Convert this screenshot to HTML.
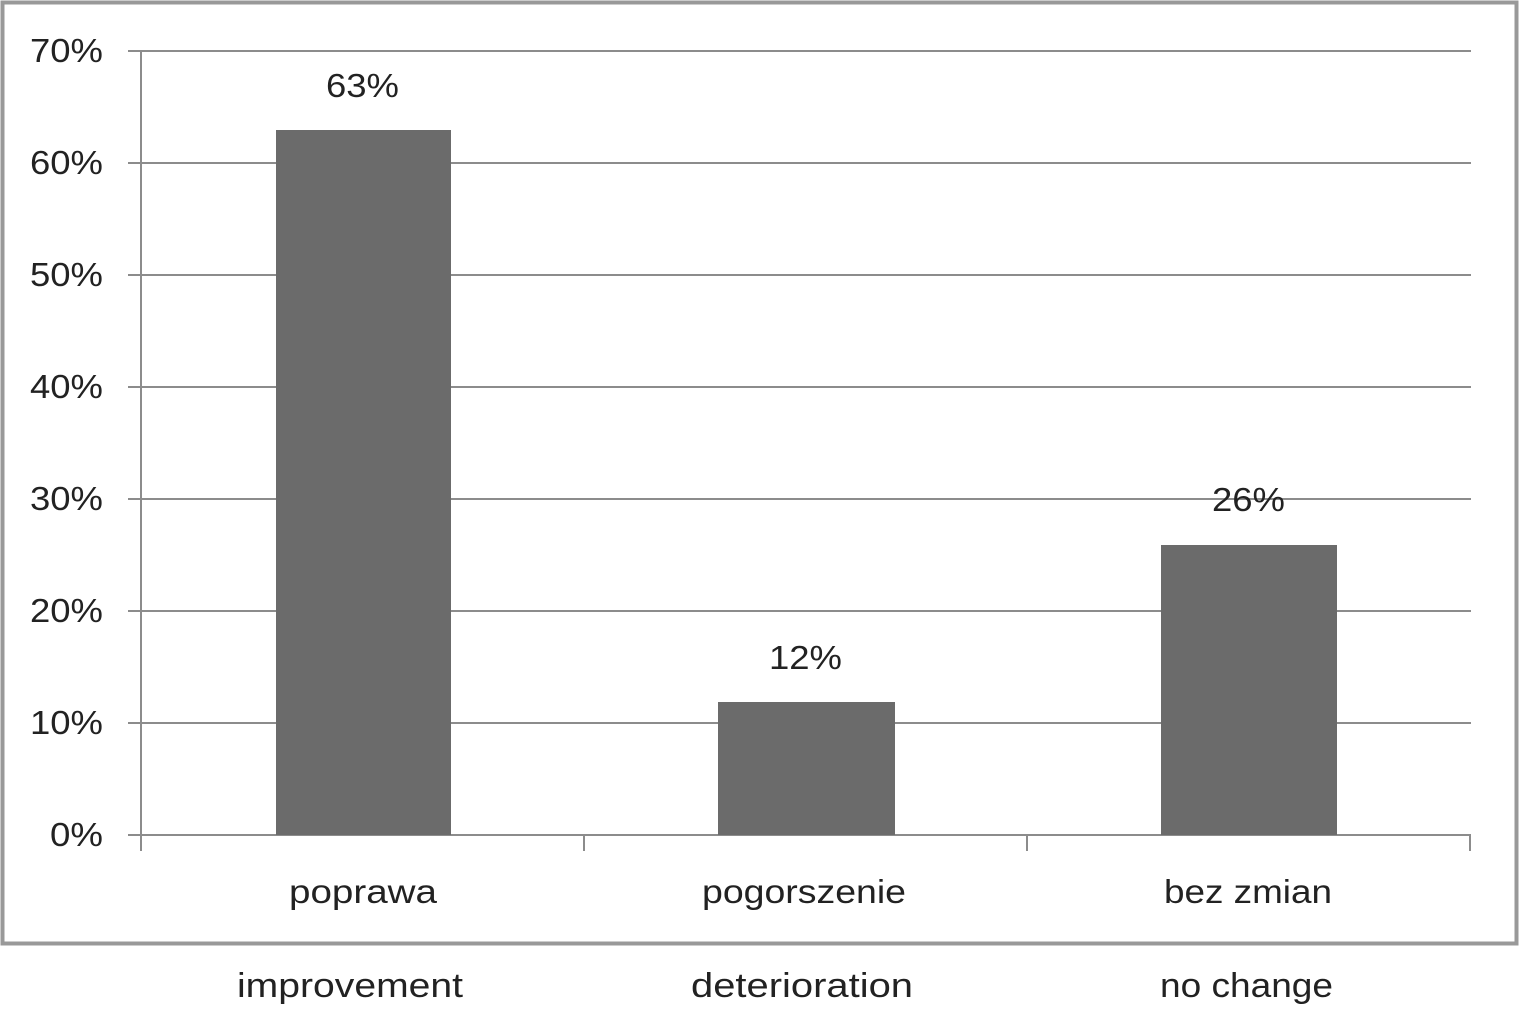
<!DOCTYPE html><html><head><style>body{margin:0;background:#fff}</style></head><body>
<svg width="1519" height="1006" xmlns="http://www.w3.org/2000/svg" font-family="'Liberation Sans',sans-serif">
<rect x="2.5" y="2.5" width="1514" height="941" fill="#fff" stroke="#999" stroke-width="4"/>
<g stroke="#8c8c8c" stroke-width="2">
<line x1="128" y1="51" x2="1471" y2="51"/><line x1="128" y1="163" x2="1471" y2="163"/>
<line x1="128" y1="275" x2="1471" y2="275"/><line x1="128" y1="387" x2="1471" y2="387"/>
<line x1="128" y1="499" x2="1471" y2="499"/><line x1="128" y1="611" x2="1471" y2="611"/>
<line x1="128" y1="723" x2="1471" y2="723"/><line x1="128" y1="835" x2="1471" y2="835"/>
<line x1="141" y1="51" x2="141" y2="851"/><line x1="584" y1="835" x2="584" y2="851"/>
<line x1="1027" y1="835" x2="1027" y2="851"/><line x1="1470" y1="835" x2="1470" y2="851"/>
</g>
<g fill="#6b6b6b">
<rect x="276" y="130" width="175" height="705"/>
<rect x="718" y="702" width="177" height="133"/>
<rect x="1161" y="545" width="176" height="290"/>
</g>
<g font-size="33" fill="#222" lengthAdjust="spacingAndGlyphs">
<text x="30" y="62" textLength="73" lengthAdjust="spacingAndGlyphs">70%</text>
<text x="30" y="174" textLength="73" lengthAdjust="spacingAndGlyphs">60%</text>
<text x="30" y="286" textLength="73" lengthAdjust="spacingAndGlyphs">50%</text>
<text x="30" y="398" textLength="73" lengthAdjust="spacingAndGlyphs">40%</text>
<text x="30" y="510" textLength="73" lengthAdjust="spacingAndGlyphs">30%</text>
<text x="30" y="622" textLength="73" lengthAdjust="spacingAndGlyphs">20%</text>
<text x="30" y="734" textLength="73" lengthAdjust="spacingAndGlyphs">10%</text>
<text x="50" y="846" textLength="53" lengthAdjust="spacingAndGlyphs">0%</text>
<text x="326" y="97" textLength="73" lengthAdjust="spacingAndGlyphs">63%</text>
<text x="769" y="669" textLength="73" lengthAdjust="spacingAndGlyphs">12%</text>
<text x="1212" y="511" textLength="73" lengthAdjust="spacingAndGlyphs">26%</text>
<text x="289" y="903" textLength="148" lengthAdjust="spacingAndGlyphs">poprawa</text>
<text x="702" y="903" textLength="204" lengthAdjust="spacingAndGlyphs">pogorszenie</text>
<text x="1164" y="903" textLength="168" lengthAdjust="spacingAndGlyphs">bez zmian</text>
<text x="237" y="997" font-size="34" textLength="226" lengthAdjust="spacingAndGlyphs">improvement</text>
<text x="691" y="997" font-size="34" textLength="222" lengthAdjust="spacingAndGlyphs">deterioration</text>
<text x="1160" y="997" font-size="34" textLength="173" lengthAdjust="spacingAndGlyphs">no change</text>
</g>
</svg></body></html>
